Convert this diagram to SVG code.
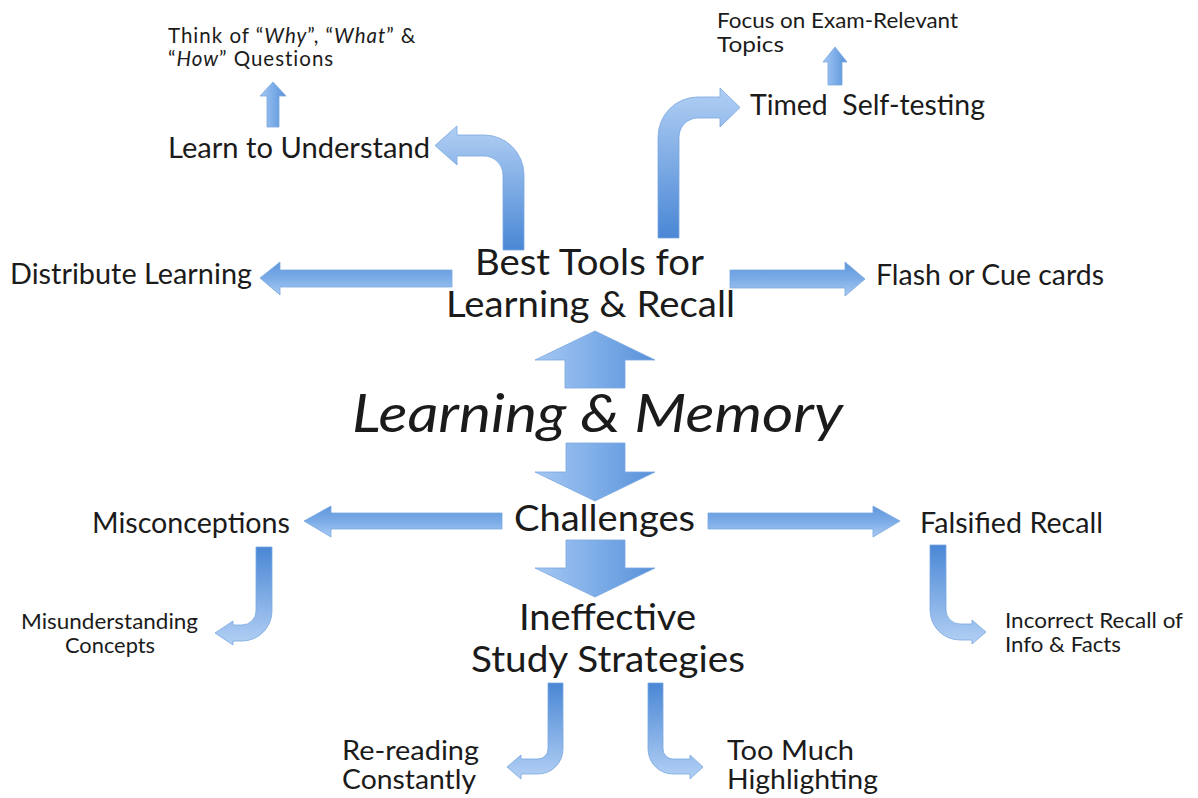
<svg xmlns="http://www.w3.org/2000/svg" width="1198" height="798" viewBox="0 0 1198 798">
<defs>
<linearGradient id="gBlock" x1="0" y1="0" x2="1" y2="0">
<stop offset="0" stop-color="#a6c8f2"/><stop offset="0.55" stop-color="#7aabe7"/><stop offset="1" stop-color="#5891d8"/>
</linearGradient>
<linearGradient id="gHoriz" x1="0" y1="0" x2="0" y2="1">
<stop offset="0" stop-color="#5e96dc"/><stop offset="0.5" stop-color="#7cace7"/><stop offset="1" stop-color="#a9caf2"/>
</linearGradient>
<linearGradient id="gUpBent" x1="0" y1="1" x2="0" y2="0">
<stop offset="0" stop-color="#4a87d5"/><stop offset="1" stop-color="#b1cff4"/>
</linearGradient>
<linearGradient id="gDownBent" x1="0" y1="0" x2="0" y2="1">
<stop offset="0" stop-color="#4a87d5"/><stop offset="1" stop-color="#b3d0f4"/>
</linearGradient>
</defs>
<style>
text{font-family:Lato,"Open Sans","Liberation Sans",sans-serif;fill:#1b1b1b;white-space:pre}
.s{font-size:21.5px}
.s2{font-size:20.5px;letter-spacing:1px}
.m{font-size:28px}
.m2{font-size:26px}
.l{font-size:37px}
.xl{font-size:53px;font-style:italic}
.it{font-style:italic}
.arrow{stroke:#79a7df;stroke-width:0.8;stroke-linejoin:round}
.block{fill:url(#gBlock)}
.horiz{fill:url(#gHoriz)}
.upb{fill:url(#gUpBent)}
.dnb{fill:url(#gDownBent)}
</style>

<g id="connectors">
<path id="a-up-best" class="arrow block" d="M595 331 L655 360 L625 360 L625 388 L565 388 L565 360 L535 360 Z"/>
<path id="a-down-challenges" class="arrow block" d="M566 443 L625 443 L625 472 L655 472 L595 501 L535 472 L566 472 Z"/>
<path id="a-down-ineffective" class="arrow block" d="M566 540 L625 540 L625 568 L655 568 L595 597 L535 568 L566 568 Z"/>
<path id="a-distribute" class="arrow horiz" d="M260 278 L280 262 L280 270 L452 270 L452 287 L280 287 L280 295 Z"/>
<path id="a-flash" class="arrow horiz" d="M730 270 L845 270 L845 262 L865 279 L845 296 L845 288 L730 288 Z"/>
<path id="a-misconceptions" class="arrow horiz" d="M304 521 L331 506 L331 513 L502 513 L502 529 L331 529 L331 537 Z"/>
<path id="a-falsified" class="arrow horiz" d="M708 513 L873 513 L873 506 L900 521 L873 537 L873 529 L708 529 Z"/>
<path id="a-learn" class="arrow upb" d="M503 250 L503 175 A19 19 0 0 0 484 156 L457 156 L457 165 L435 145.5 L457 126 L457 135 L484 135 A40 40 0 0 1 524 175 L524 250 Z"/>
<path id="a-timed" class="arrow upb" d="M658 238 L658 137 A40 40 0 0 1 698 97 L720 97 L720 88 L740 107.5 L720 127 L720 118 L698 118 A19 19 0 0 0 679 137 L679 238 Z"/>
<path id="a-think" class="arrow block" d="M273 82 L286 96 L279 96 L279 127 L267 127 L267 96 L260 96 Z"/>
<path id="a-focus" class="arrow block" d="M835 47 L847 62 L842 62 L842 85 L828 85 L828 62 L823 62 Z"/>
<path id="a-misunderstanding" class="arrow dnb" d="M256 547 L272 547 L272 611 A30 30 0 0 1 242 641 L233 641 L233 645 L215 633 L233 621 L233 625 L242 625 A14 14 0 0 0 256 611 Z"/>
<path id="a-incorrect" class="arrow dnb" d="M930 545 L946 545 L946 610 A14 14 0 0 0 960 624 L972 624 L972 620 L986 632 L972 644 L972 640 L960 640 A30 30 0 0 1 930 610 Z"/>
<path id="a-rereading" class="arrow dnb" d="M548 683 L563 683 L563 749 A25 25 0 0 1 538 774 L521 774 L521 779 L507 767 L521 755 L521 759 L538 759 A10 10 0 0 0 548 749 Z"/>
<path id="a-highlighting" class="arrow dnb" d="M648 683 L663 683 L663 749 A10 10 0 0 0 673 759 L690 759 L690 755 L703 767 L690 779 L690 774 L673 774 A25 25 0 0 1 648 749 Z"/>
</g>

<g id="node-think">
<text class="s2" x="168" y="43">Think of “<tspan class="it">Why</tspan>”, “<tspan class="it">What</tspan>” &amp;</text>
<text class="s2" x="168" y="66">“<tspan class="it">How</tspan>” Questions</text>
</g>
<g id="node-learn">
<text class="m" x="168" y="158" textLength="262" lengthAdjust="spacingAndGlyphs">Learn to Understand</text>
</g>
<g id="node-focus">
<text class="s" x="717" y="28" textLength="241" lengthAdjust="spacingAndGlyphs">Focus on Exam-Relevant</text>
<text class="s" x="717" y="52" textLength="67" lengthAdjust="spacingAndGlyphs">Topics</text>
</g>
<g id="node-timed">
<text class="m" x="750" y="115" textLength="235" lengthAdjust="spacingAndGlyphs">Timed  Self-testing</text>
</g>
<g id="node-distribute">
<text class="m" x="10" y="284" textLength="242" lengthAdjust="spacingAndGlyphs">Distribute Learning</text>
</g>
<g id="node-best">
<text class="l" x="475" y="275" textLength="229" lengthAdjust="spacingAndGlyphs">Best Tools for</text>
<text class="l" x="446" y="317" textLength="289" lengthAdjust="spacingAndGlyphs">Learning &amp; Recall</text>
</g>
<g id="node-flash">
<text class="m" x="876" y="285" textLength="228" lengthAdjust="spacingAndGlyphs">Flash or Cue cards</text>
</g>
<g id="node-memory">
<text class="xl" x="352" y="432" textLength="491" lengthAdjust="spacingAndGlyphs">Learning &amp; Memory</text>
</g>
<g id="node-challenges">
<text class="l" x="514" y="531" textLength="181" lengthAdjust="spacingAndGlyphs">Challenges</text>
</g>
<g id="node-misconceptions">
<text class="m" x="92" y="533" textLength="198" lengthAdjust="spacingAndGlyphs">Misconceptions</text>
</g>
<g id="node-falsified">
<text class="m" x="920" y="533" textLength="183" lengthAdjust="spacingAndGlyphs">Falsified Recall</text>
</g>
<g id="node-misunderstanding">
<text class="s" x="21" y="629" textLength="177" lengthAdjust="spacingAndGlyphs">Misunderstanding</text>
<text class="s" x="65" y="653" textLength="90" lengthAdjust="spacingAndGlyphs">Concepts</text>
</g>
<g id="node-incorrect">
<text class="s" x="1005" y="628" textLength="178" lengthAdjust="spacingAndGlyphs">Incorrect Recall of</text>
<text class="s" x="1005" y="652" textLength="116" lengthAdjust="spacingAndGlyphs">Info &amp; Facts</text>
</g>
<g id="node-ineffective">
<text class="l" x="519" y="630" textLength="177" lengthAdjust="spacingAndGlyphs">Ineffective</text>
<text class="l" x="471" y="672" textLength="274" lengthAdjust="spacingAndGlyphs">Study Strategies</text>
</g>
<g id="node-rereading">
<text class="m2" x="342" y="760" textLength="137" lengthAdjust="spacingAndGlyphs">Re-reading</text>
<text class="m2" x="342" y="789" textLength="134" lengthAdjust="spacingAndGlyphs">Constantly</text>
</g>
<g id="node-highlighting">
<text class="m2" x="727" y="760" textLength="127" lengthAdjust="spacingAndGlyphs">Too Much</text>
<text class="m2" x="727" y="789" textLength="151" lengthAdjust="spacingAndGlyphs">Highlighting</text>
</g>
</svg>
